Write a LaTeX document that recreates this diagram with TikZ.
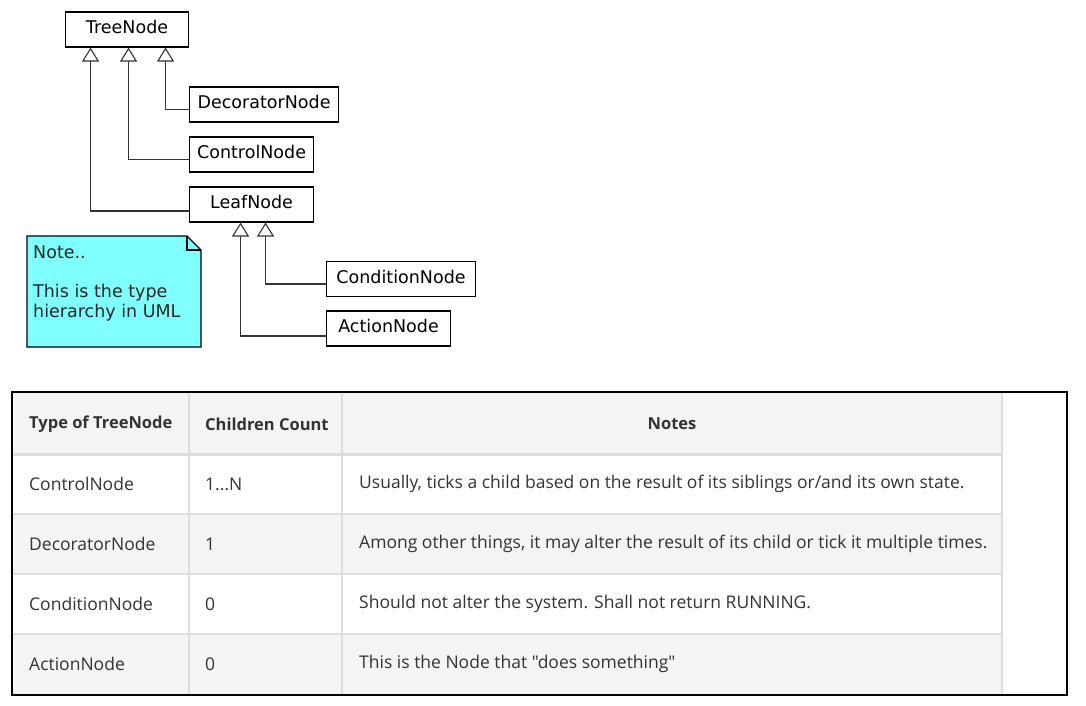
\documentclass[tikz,border=0pt]{standalone}
\usepackage{fontspec}
\newfontfamily\tablefont{Open Sans}
\newfontfamily\umlfont{DejaVu Sans}
\usetikzlibrary{arrows.meta}
\definecolor{notecyan}{RGB}{128,255,255}
\definecolor{rowgray}{RGB}{244,244,244}
\definecolor{gridgray}{RGB}{221,221,221}
\definecolor{txt}{RGB}{51,51,51}
\tikzset{
  cls/.style={draw=black, line width=1.1pt, fill=white, minimum height=35pt, inner xsep=6pt, text height=13pt, text depth=5pt, font=\umlfont\fontsize{17.5}{20}\selectfont, anchor=west},
  inh/.style={draw=black!80, line width=1.4pt, -{Triangle[open, width=17pt, length=14pt, fill=white, line width=1.1pt]}},
  celltext/.style={anchor=west, text=txt, font=\tablefont\fontsize{17.5}{20}\selectfont, inner sep=0pt},
  headtext/.style={text=txt, font=\tablefont\bfseries\fontsize{16.5}{20}\selectfont, inner sep=0pt},
}
\begin{document}
\begin{tikzpicture}[x=1pt, y=-1pt]
\useasboundingbox (0,0) rectangle (1086,706);
% UML classes
\node[cls, minimum width=123pt] (tn) at (65,29.5) {TreeNode};
\node[cls, minimum width=149pt] (dec) at (189,104.5) {DecoratorNode};
\node[cls, minimum width=124pt] (ctl) at (189,154.5) {ControlNode};
\node[cls, minimum width=124pt] (leaf) at (189,204.5) {LeafNode};
\node[cls, minimum width=149pt] (cond) at (326,279) {ConditionNode};
\node[cls, minimum width=124pt] (act) at (326,328.5) {ActionNode};
% inheritance
\draw[inh] ([yshift=-5pt]dec.west) -| ([xshift=38.5pt]tn.south);
\draw[inh] ([yshift=-5pt]ctl.west) -| ([xshift=1.5pt]tn.south);
\draw[inh] ([yshift=-6.5pt]leaf.west) -| ([xshift=-36.5pt]tn.south);
\draw[inh] ([yshift=-5pt]cond.west) -| ([xshift=14pt]leaf.south);
\draw[inh] ([yshift=-7.5pt]act.west) -| ([xshift=-11pt]leaf.south);
% note
\draw[line width=1.1pt, fill=notecyan] (27,236) -- (187,236) -- (201,250) -- (201,347) -- (27,347) -- cycle;
\draw[line width=1.1pt] (187,236) -- (187,250) -- (201,250);
\node[anchor=base west, align=left, inner sep=0pt, font=\umlfont\fontsize{17.5}{19.5}\selectfont, text=black!85] (note) at (33,317) {Note..\\\mbox{}\\This is the type\\hierarchy in UML};
% table
\fill[rowgray] (13,393) rectangle (1002,453);
\fill[rowgray] (13,514) rectangle (1002,574);
\fill[rowgray] (13,634) rectangle (1002,694);
\draw[gridgray, line width=3pt] (13,454.5) -- (1002,454.5);
\foreach \yy in {514,574,634} \draw[gridgray, line width=1.2pt] (13,\yy) -- (1002,\yy);
\foreach \xx in {189,342,1002} \draw[gridgray, line width=1.2pt] (\xx,393) -- (\xx,694);
\draw[black, line width=1.2pt] (12,392) rectangle (1067,695);
\node[headtext, anchor=west] (h1) at (29,424) {Type of TreeNode};
\node[headtext, anchor=west] (h2) at (205,424) {Children Count};
\node[headtext] (h3) at (672,424) {Notes};
\node[celltext] (r1a) at (29,484) {ControlNode};
\node[celltext] (r1b) at (205,484) {1...N};
\node[celltext] (r1c) at (359,484) {Usually, ticks a child based on the result of its siblings or/and its own state.};
\node[celltext] (r2a) at (29,544) {DecoratorNode};
\node[celltext] (r2b) at (205,544) {1};
\node[celltext] (r2c) at (359,544) {Among other things, it may alter the result of its child or tick it multiple times.};
\node[celltext] (r3a) at (29,604) {ConditionNode};
\node[celltext] (r3b) at (205,604) {0};
\node[celltext] (r3c) at (359,604) {Should not alter the system. Shall not return RUNNING.};
\node[celltext] (r4a) at (29,664) {ActionNode};
\node[celltext] (r4b) at (205,664) {0};
\node[celltext] (r4c) at (359,664) {This is the Node that "does something"};
\end{tikzpicture}
\end{document}
